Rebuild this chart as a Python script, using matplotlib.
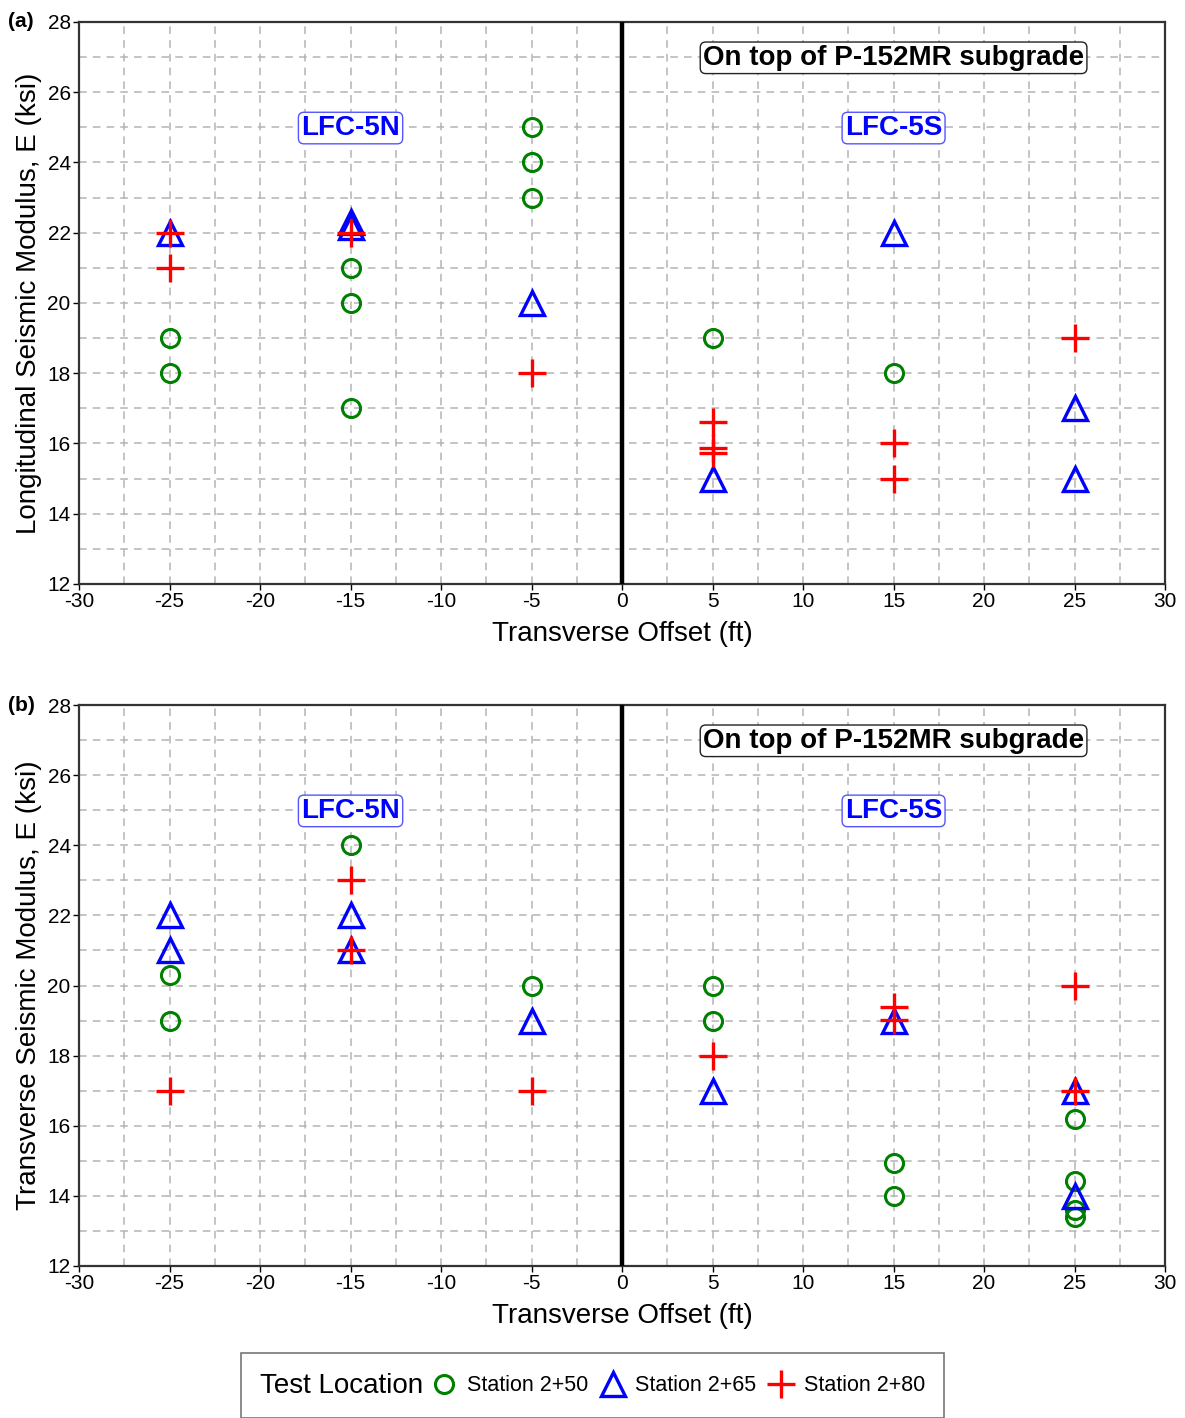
import matplotlib
matplotlib.use("Agg")
from matplotlib import pyplot as plt
from matplotlib.ticker import MultipleLocator
from matplotlib.lines import Line2D
from matplotlib.offsetbox import HPacker

plt.rcParams['font.family'] = ['Liberation Sans', 'DejaVu Sans']
plt.rcParams['axes.unicode_minus'] = False

# panel (a) longitudinal modulus
a_x250 = [-25, -25, -15, -15, -15, -5, -5, -5, 5, 15]
a_y250 = [19, 18, 21, 20, 17, 25, 24, 23, 19, 18]
a_x265 = [-25, -15, -15, -5, 5, 15, 25, 25]
a_y265 = [22, 22.3, 22.15, 20, 15, 22, 17, 15]
a_x280 = [-25, -25, -15, -5, 5, 5, 5, 15, 15, 25]
a_y280 = [22, 21, 22, 18, 16.6, 15.88, 15.72, 16, 15, 19]

# panel (b) transverse modulus
b_x250 = [-25, -25, -15, -5, 5, 5, 15, 15, 25, 25, 25, 25]
b_y250 = [20.3, 19, 24, 20, 20, 19, 14.93, 14, 16.2, 14.42, 13.6, 13.4]
b_x265 = [-25, -25, -15, -15, -5, 5, 15, 25, 25]
b_y265 = [22, 21, 22, 21, 19, 17, 19, 17, 14]
b_x280 = [-25, -15, -15, -5, 5, 15, 15, 25, 25]
b_y280 = [17, 23, 21, 17, 18, 19.4, 19.03, 20, 17]

panels = [
    ('(a)', 'Longitudinal Seismic Modulus, E (ksi)', a_x250, a_y250, a_x265, a_y265, a_x280, a_y280),
    ('(b)', 'Transverse Seismic Modulus, E (ksi)', b_x250, b_y250, b_x265, b_y265, b_x280, b_y280),
]

circ = dict(linestyle='none', marker='o', markersize=13, markerfacecolor='none',
            markeredgecolor='green', markeredgewidth=2.2)
tri = dict(linestyle='none', marker='^', markersize=17, markerfacecolor='none',
           markeredgecolor='blue', markeredgewidth=2.4)
plus = dict(linestyle='none', marker='+', markersize=20, markeredgecolor='red',
            markeredgewidth=2.4)

fig = plt.figure(figsize=(11.85, 14.18), dpi=100)
rects = [[0.0667, 0.5882, 0.9165, 0.3963], [0.0667, 0.1072, 0.9165, 0.3956]]

for rect, (tag, ylab, x1, y1, x2, y2, x3, y3) in zip(rects, panels):
    ax = fig.add_axes(rect)
    ax.set_xlim(-30, 30)
    ax.set_ylim(12, 28)
    ax.xaxis.set_major_locator(MultipleLocator(5))
    ax.xaxis.set_minor_locator(MultipleLocator(2.5))
    ax.yaxis.set_major_locator(MultipleLocator(2))
    ax.yaxis.set_minor_locator(MultipleLocator(1))
    ax.grid(which='both', color='#b4b4b4', linestyle=(0, (5, 4)), linewidth=1.1)
    ax.set_axisbelow(True)
    ax.tick_params(which='major', labelsize=15, length=4, width=1, pad=2)
    ax.tick_params(which='minor', length=0)
    for s in ax.spines.values():
        s.set_linewidth(1.6)
        s.set_color('#333333')
    ax.axvline(0, color='black', linewidth=3.2, zorder=3)

    ax.plot(x1, y1, zorder=4, **circ)
    ax.plot(x2, y2, zorder=4, **tri)
    ax.plot(x3, y3, zorder=5, **plus)

    ax.set_xlabel('Transverse Offset (ft)', fontsize=20, labelpad=7)
    ax.set_ylabel(ylab, fontsize=20, labelpad=4)

    ax.text(15, 26.98, 'On top of P-152MR subgrade', fontsize=20, fontweight='bold',
            ha='center', va='center', zorder=6,
            bbox=dict(boxstyle='round,pad=0.1,rounding_size=0.2', fc='white', ec='#222222', lw=1))
    ax.text(-15, 24.98, 'LFC-5N', fontsize=20, fontweight='bold', color='blue',
            ha='center', va='center', zorder=6,
            bbox=dict(boxstyle='round,pad=0.1,rounding_size=0.2', fc='white', ec='#5555ff', lw=1))
    ax.text(15, 24.98, 'LFC-5S', fontsize=20, fontweight='bold', color='blue',
            ha='center', va='center', zorder=6,
            bbox=dict(boxstyle='round,pad=0.1,rounding_size=0.2', fc='white', ec='#5555ff', lw=1))

    ax.text(-0.0655, 1.0, tag, transform=ax.transAxes, fontsize=15, fontweight='bold',
            ha='left', va='center')

handles = [Line2D([], [], **circ), Line2D([], [], **tri), Line2D([], [], **plus)]
leg = fig.legend(handles, ['Station 2+50', 'Station 2+65', 'Station 2+80'], ncol=3,
                 loc='center', bbox_to_anchor=(0.5, 0.0228), fontsize=15.5,
                 title='Test Location', title_fontsize=20, frameon=True, fancybox=False,
                 edgecolor='#555555', handletextpad=0.35, columnspacing=0.45, handlelength=1.4,
                 borderpad=0.9, borderaxespad=0)
leg.get_frame().set_linewidth(1.2)
# title left of the entries, all on one row
leg._legend_box._children = [HPacker(pad=0, sep=4, align='center',
                                     children=[leg._legend_title_box, leg._legend_handle_box])]

fig.savefig('out.png', dpi=100)
